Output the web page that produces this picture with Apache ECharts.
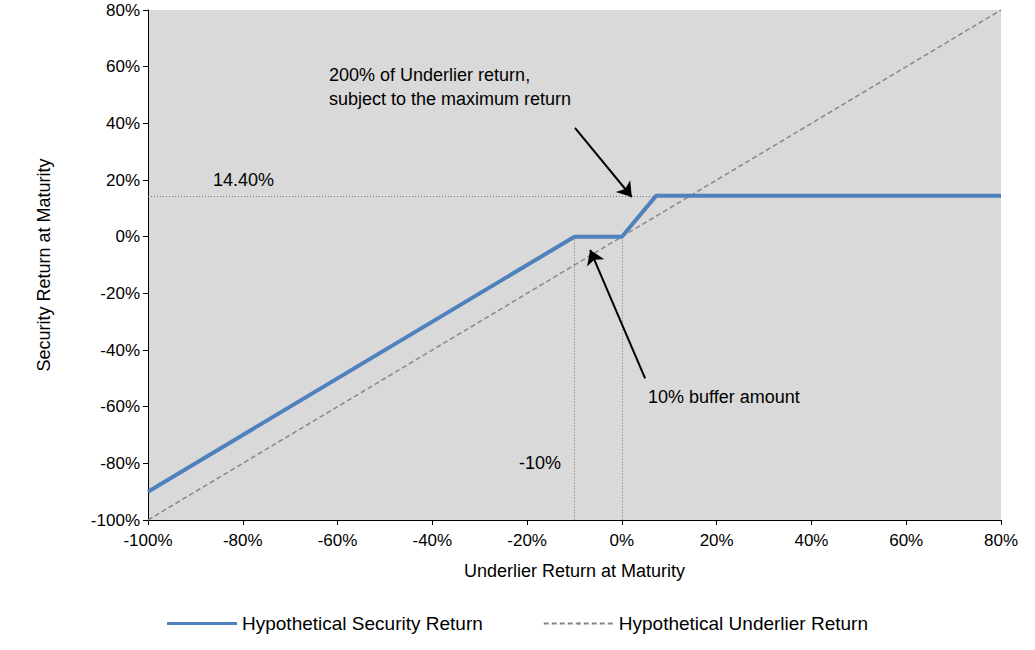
<!DOCTYPE html>
<html style="height: 100%">
<head>
    <meta charset="utf-8">
    <script src="https://cdn.jsdelivr.net/npm/echarts@6/dist/echarts.min.js"></script>
</head>
<body style="height: 100%; margin: 0; background: #fff">
<div id="container" style="width: 1035px; height: 650px"></div>
<script type="text/javascript">
    // payoff points
    var securityX = [-100, -10, 0, 7.2, 80];
    var securityY = [-90, 0, 0, 14.4, 14.4];
    var underlierX = [-100, 80];
    var underlierY = [-100, 80];
    var maxReturn = 14.4;
    var bufferLevel = -10;
    // annotations [x, y, text]
    var notes = [
        [-61.8, 53, '200% of Underlier return,\nsubject to the maximum return'],
        [-86.3, 20, '14.40%'],
        [5.5, -56.6, '10% buffer amount'],
        [-21.7, -80, '-10%']
    ];
    var arrows = [
        [[-9.9, 38.4], [2.1, 14]],
        [[4.9, -50], [-6.7, -4.7]]
    ];

    var chart = echarts.init(document.getElementById('container'), null, {renderer: 'svg'});
    var font = 'Liberation Sans';
    var pct = function (v) { return v + '%'; };
    var dotted = {color: '#777', type: [1, 2], width: 1};

    var option = {
        animation: false,
        textStyle: {fontFamily: font},
        grid: {left: 148, right: 34, top: 10, bottom: 130, show: true, backgroundColor: '#d9d9d9', borderWidth: 0},
        xAxis: {
            type: 'value', min: -100, max: 80, interval: 20,
            name: 'Underlier Return at Maturity', nameLocation: 'middle', nameGap: 42,
            nameTextStyle: {fontSize: 18, color: '#000'},
            axisLine: {onZero: false, lineStyle: {color: '#000'}},
            axisTick: {show: true, lineStyle: {color: '#000'}},
            axisLabel: {formatter: pct, fontSize: 17, color: '#000', margin: 12},
            splitLine: {show: false}
        },
        yAxis: {
            type: 'value', min: -100, max: 80, interval: 20,
            name: 'Security Return at Maturity', nameLocation: 'middle', nameGap: 95,
            nameTextStyle: {fontSize: 18, color: '#000'},
            axisLine: {show: true, onZero: false, lineStyle: {color: '#000'}},
            axisTick: {show: true, lineStyle: {color: '#000'}},
            axisLabel: {formatter: pct, fontSize: 17, color: '#000'},
            splitLine: {show: false}
        },
        legend: {
            bottom: 12, itemWidth: 70, itemHeight: 3, itemGap: 60,
            textStyle: {fontSize: 19, color: '#000'},
            data: [
                {name: 'Hypothetical Security Return', icon: 'rect'},
                {name: 'Hypothetical Underlier Return'}
            ]
        },
        series: [
            {
                name: 'Hypothetical Underlier Return', type: 'line', symbol: 'none',
                lineStyle: {color: '#888', width: 1.5, type: [5, 3]},
                itemStyle: {color: '#888'},
                data: underlierX.map(function (x, i) { return [x, underlierY[i]]; }),
                markLine: {
                    silent: true, symbol: 'none', lineStyle: dotted, label: {show: false},
                    data: [
                        [{coord: [-100, maxReturn]}, {coord: [7.2, maxReturn]}],
                        [{coord: [bufferLevel, 0]}, {coord: [bufferLevel, -100]}],
                        [{coord: [0, 0]}, {coord: [0, -100]}]
                    ]
                }
            },
            {
                name: 'Hypothetical Security Return', type: 'line', symbol: 'none', z: 5,
                lineStyle: {color: '#4f81bd', width: 4},
                itemStyle: {color: '#4f81bd'},
                data: securityX.map(function (x, i) { return [x, securityY[i]]; }),
                markLine: {
                    silent: true, symbol: ['none', 'arrow'], symbolSize: 14,
                    lineStyle: {color: '#000', width: 2, type: 'solid'}, label: {show: false},
                    data: arrows.map(function (a) { return [{coord: a[0]}, {coord: a[1]}]; })
                },
                markPoint: {
                    silent: true, symbol: 'rect', symbolSize: 0,
                    label: {
                        show: true, position: 'right', distance: 0, color: '#000', fontSize: 18,
                        lineHeight: 24, align: 'left',
                        formatter: function (p) { return p.data.text; }
                    },
                    data: notes.map(function (n) { return {coord: [n[0], n[1]], text: n[2]}; })
                }
            }
        ]
    };
    chart.setOption(option);
</script>
</body>
</html>
